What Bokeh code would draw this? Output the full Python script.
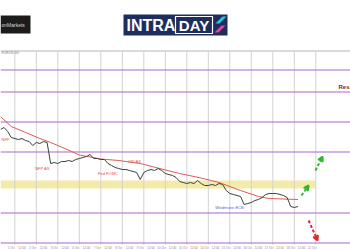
from bokeh.plotting import figure
from bokeh.models import Range1d, Arrow, VeeHead
from bokeh.core.properties import value
from bokeh.embed import file_html
from bokeh.resources import INLINE

# ---------------- data (4-hour bars, EUR/USD-like prices) ----------------
close = [
    1.1121, 1.1123, 1.1119, 1.1113, 1.1112, 1.1111, 1.1112, 1.1110, 1.1109, 1.1105, 1.1108, 1.1107,
    1.1109, 1.1108, 1.1087, 1.1088, 1.1087, 1.1089, 1.1089, 1.1090, 1.1089, 1.1091, 1.1092, 1.1093,
    1.1094, 1.1096, 1.1092, 1.1092, 1.1091, 1.1091, 1.1087, 1.1085, 1.1083, 1.1082, 1.1081, 1.1081,
    1.1080, 1.1079, 1.1078, 1.1071, 1.1078, 1.1080, 1.1081, 1.1080, 1.1082, 1.1080, 1.1077, 1.1076,
    1.1075, 1.1073, 1.1069, 1.1068, 1.1067, 1.1068, 1.1067, 1.1070, 1.1067, 1.1065, 1.1065, 1.1066,
    1.1065, 1.1067, 1.1066, 1.1060, 1.1057, 1.1056, 1.1055, 1.1054, 1.1046, 1.1047, 1.1048, 1.1050,
    1.1051, 1.1053, 1.1056, 1.1057, 1.1057, 1.1057, 1.1056, 1.1055, 1.1053, 1.1044, 1.1043, 1.1044,
]
bars = list(range(len(close)))

ma_bars = [0, 3, 7, 11, 14, 18, 22, 28, 33, 39, 45, 50, 56, 61, 67, 72, 75, 83]
ma_vals = [1.1134, 1.1124, 1.1118, 1.1112, 1.1108, 1.1102, 1.10955, 1.10915, 1.1090, 1.1087,
           1.10815, 1.1077, 1.10725, 1.1068, 1.1060, 1.1054, 1.1052, 1.1051]

levels = [1.11805, 1.11585, 1.11285, 1.10985, 1.10375, 1.10075]
zone_low, zone_high = 1.1062, 1.1070
zone_end_bar = 88

day_bars = list(range(4, 89, 6))          # day separators

events = ["NFP AS", "Fed FOMC", "CPI AS", "Weidmann ECB"]
event_bar = [11.7, 30.0, 37.4, 63.9]
event_price = [1.1082, 1.1077, 1.10895, 1.10435]
event_color = ["#d9534f", "#d9534f", "#d9534f", "#5b5fc7"]

tick_bars = list(range(3, 88, 3))
tick_labels = ["1 Oct", "12:00", "2 Oct", "12:00", "3 Oct", "12:00", "4 Oct",
               "12:00", "7 Oct", "12:00", "8 Oct", "12:00", "9 Oct", "12:00",
               "10 Oct", "12:00", "11 Oct", "12:00", "14 Oct", "12:00", "15 Oct", "12:00",
               "16 Oct", "12:00", "17 Oct", "12:00", "18 Oct", "12:00", "21 Oct"]

up_arrows = [(84.0, 1.1055, 86.0, 1.1065), (87.9, 1.1080, 89.9, 1.1094)]
down_arrows = [(86.0, 1.1030, 88.5, 1.1010)]

# ---------------- layout helpers (pixel layout -> data) ----------------
W, H = 350, 250
PX_PER_BAR = 3.583
TOP_PRICE = 1.1250
PRICE_PER_PX = 0.0001
def X(px): return px / PX_PER_BAR
def Y(py): return TOP_PRICE - py * PRICE_PER_PX

p = figure(width=W, height=H, output_backend="svg", toolbar_location=None,
           x_range=Range1d(0, X(W)), y_range=Range1d(Y(H), TOP_PRICE),
           min_border=0, background_fill_color="white", border_fill_color="white")
p.axis.visible = False
p.grid.visible = False
p.outline_line_color = None

FONT = value("Liberation Sans")

# top border of chart
p.segment(x0=[X(0)], y0=[Y(50.5)], x1=[X(W)], y1=[Y(50.5)], line_color="#b5b5b5", line_width=1)

# yellow zone
p.quad(left=[0], right=[zone_end_bar], bottom=[zone_low], top=[zone_high],
       fill_color="#f3e9a2", fill_alpha=0.9, line_color=None)

# vertical day separators
p.segment(x0=day_bars, y0=[Y(50)] * len(day_bars), x1=day_bars, y1=[Y(244)] * len(day_bars),
          line_color="#d2d2d2", line_width=1)

# horizontal levels
p.segment(x0=[0] * len(levels), y0=levels, x1=[X(W)] * len(levels), y1=levels,
          line_color="#a968c9", line_width=1.2)

# moving average
p.line(ma_bars, ma_vals, line_color="#e05a5a", line_width=1)

# price
p.line(bars, close, line_color="#34433a", line_width=1)

# events
p.text(x=event_bar, y=event_price, text=events, text_color=event_color,
       text_font=FONT, text_font_size="4px", text_align="center", text_baseline="middle")
p.text(x=[X(1)], y=[Y(139)], text=["NFP"], text_color="#d9534f", text_font=FONT,
       text_font_size="4px", text_align="left", text_baseline="middle")

# resistance label
p.text(x=[X(349)], y=[Y(86)], text=["Res"], text_color="#8b1a1a", text_font=FONT,
       text_font_size="6px", text_font_style="bold", text_align="right", text_baseline="middle")

# date labels
p.text(x=tick_bars, y=[Y(247)] * len(tick_bars), text=tick_labels, text_color="#8a8a8a",
       text_font=FONT, text_font_size="3px", text_align="center", text_baseline="middle")
p.text(x=[X(1)], y=[Y(52)], text=["EURUSD,H4"], text_color="#8a8a8a",
       text_font=FONT, text_font_size="3px", text_align="left", text_baseline="middle")

# projection arrows
for (x0, y0, x1, y1) in up_arrows:
    p.add_layout(Arrow(end=VeeHead(size=5, line_color="#2fb52f", line_width=2, fill_color=None),
                       x_start=x0, y_start=y0, x_end=x1, y_end=y1,
                       line_color="#2fb52f", line_width=2, line_dash="3 2"))
for (x0, y0, x1, y1) in down_arrows:
    p.add_layout(Arrow(end=VeeHead(size=5, line_color="#e02828", line_width=2, fill_color=None),
                       x_start=x0, y_start=y0, x_end=x1, y_end=y1,
                       line_color="#e02828", line_width=2, line_dash="3 2"))

# ---------------- logos ----------------
p.quad(left=[X(0)], right=[X(30)], top=[Y(15)], bottom=[Y(33)], fill_color="#1c1c1c", line_color=None)
p.text(x=[X(1)], y=[Y(24)], text=["onMarkets"], text_color="#d8d8d8", text_font=FONT,
       text_font_size="5px", text_align="left", text_baseline="middle")

p.quad(left=[X(123)], right=[X(227)], top=[Y(14)], bottom=[Y(35)], fill_color="#1d2e5c", line_color=None)
p.text(x=[X(126)], y=[Y(25)], text=["INTRA"], text_color="white", text_font=FONT,
       text_font_size="16px", text_font_style="bold", text_align="left", text_baseline="middle")
p.quad(left=[X(175)], right=[X(212)], top=[Y(16)], bottom=[Y(33)], fill_color=None,
       line_color="white", line_width=1.2)
p.text(x=[X(193.5)], y=[Y(25)], text=["DAY"], text_color="white", text_font=FONT,
       text_font_size="15px", text_font_style="bold", text_align="center", text_baseline="middle")
p.patches(xs=[[X(215), X(222), X(226), X(219)], [X(214), X(221), X(225), X(218)]],
          ys=[[Y(23), Y(16), Y(16), Y(23)], [Y(32), Y(25), Y(25), Y(32)]],
          fill_color=["#29c4d6", "#e8409a"], line_color=None)

open("out.html", "w").write(file_html(p, INLINE))
